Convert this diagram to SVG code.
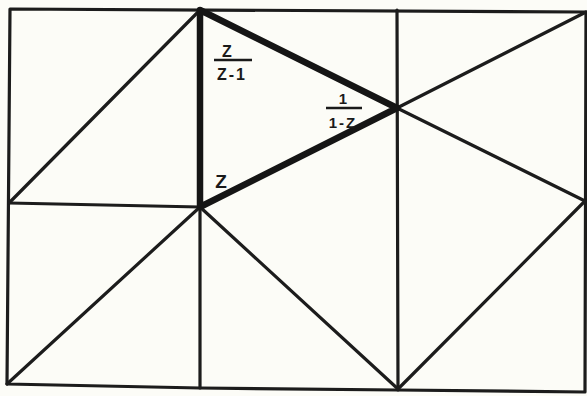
<svg xmlns="http://www.w3.org/2000/svg" width="587" height="396" viewBox="0 0 587 396">
<style>
.thin{stroke:#1c1c1c;stroke-width:3.2;fill:none;stroke-linecap:round;stroke-linejoin:round}
.thick{stroke:#151515;stroke-width:6.5;fill:none;stroke-linecap:round;stroke-linejoin:round}
.lbl{font-family:"Liberation Sans",Arial,sans-serif;font-weight:bold;fill:#1a1a1a}
</style>
<rect x="0" y="0" width="587" height="396" fill="#fcfcf7"/>
<g id="grid">
<path class="thin" d="M10,9 L586,12 L585,392 L398,390 L200,388 L7,384 Z"/>
<path class="thin" d="M200,10 L200,388"/>
<path class="thin" d="M397,10 L398,390"/>
<path class="thin" d="M9,203 L200,207"/>
</g>
<g id="diagonals">
<path class="thin" d="M9,203 L200,10"/>
<path class="thin" d="M7,384 L200,207"/>
<path class="thin" d="M200,207 L398,389"/>
<path class="thin" d="M397,108 L586,12"/>
<path class="thin" d="M397,108 L585,201"/>
<path class="thin" d="M585,201 L398,389"/>
</g>
<g id="triangle">
<path class="thick" d="M200,10 L397,108 L200,207 Z"/>
</g>
<g id="label-z-over-z-1">
<text class="lbl" x="227" y="57" font-size="16" text-anchor="middle">Z</text>
<line x1="214" y1="60" x2="252" y2="60" stroke="#1a1a1a" stroke-width="2.5"/>
<text class="lbl" x="232" y="80" font-size="16" text-anchor="middle" letter-spacing="2">Z-1</text>
</g>
<g id="label-1-over-1-z">
<text class="lbl" x="343" y="104" font-size="15" text-anchor="middle">1</text>
<line x1="326" y1="108" x2="362" y2="108" stroke="#1a1a1a" stroke-width="2.5"/>
<text class="lbl" x="343" y="128" font-size="15" text-anchor="middle" letter-spacing="2">1-Z</text>
</g>
<g id="label-z">
<text class="lbl" x="221" y="188" font-size="19" text-anchor="middle">Z</text>
</g>
</svg>
